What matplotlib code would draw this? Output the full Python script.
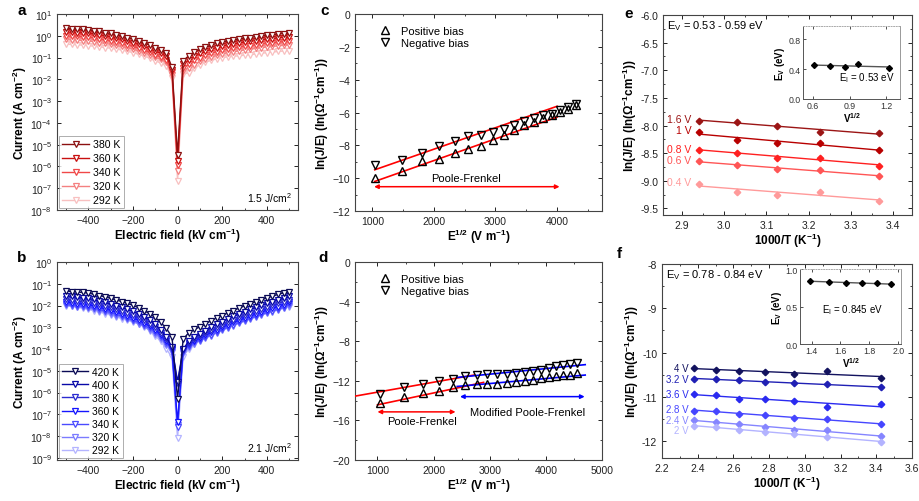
import matplotlib
matplotlib.use('Agg')
import matplotlib.pyplot as plt
import numpy as np
from matplotlib.ticker import LogLocator, NullLocator, MultipleLocator, FormatStrFormatter, LogFormatterMathtext

plt.rcParams['font.family'] = ['Liberation Sans', 'DejaVu Sans']
plt.rcParams['mathtext.fontset'] = 'custom'
plt.rcParams['mathtext.rm'] = 'Liberation Sans'
plt.rcParams['mathtext.it'] = 'Liberation Sans:italic'
plt.rcParams['mathtext.bf'] = 'Liberation Sans:bold'

# ---------------- data ----------------
field = [-500, -475, -450, -425, -400, -375, -350, -325, -300, -275, -250, -225, -200, -175, -150,
         -125, -100, -75, -50, -25, 0, 25, 50, 75, 100, 125, 150, 175, 200, 225, 250, 275, 300,
         325, 350, 375, 400, 425, 450, 475, 500]

a_labels = ['380 K', '360 K', '340 K', '320 K', '292 K']
a_colors = ['#8b1010', '#c81010', '#f04848', '#f48080', '#f8c0c0']
a_log = [
    [0.34, 0.32, 0.31, 0.29, 0.28, 0.24, 0.20, 0.15, 0.11, 0.05, -0.01, -0.08, -0.15, -0.24, -0.33,
     -0.43, -0.54, -0.64, -0.78, -1.45, -5.46, -1.15, -0.92, -0.75, -0.62, -0.52, -0.43, -0.35, -0.28,
     -0.24, -0.20, -0.15, -0.11, -0.08, -0.04, -0.01, 0.03, 0.05, 0.08, 0.10, 0.12],
    [0.18, 0.16, 0.15, 0.13, 0.12, 0.08, 0.04, -0.01, -0.05, -0.11, -0.17, -0.24, -0.31, -0.40, -0.49,
     -0.59, -0.70, -0.80, -0.94, -1.55, -5.75, -1.30, -1.10, -0.94, -0.81, -0.71, -0.62, -0.54, -0.47,
     -0.42, -0.38, -0.33, -0.29, -0.26, -0.22, -0.19, -0.15, -0.13, -0.10, -0.08, -0.06],
    [0.00, -0.02, -0.03, -0.05, -0.06, -0.10, -0.14, -0.19, -0.23, -0.29, -0.35, -0.41, -0.48, -0.57, -0.66,
     -0.76, -0.87, -0.97, -1.11, -1.68, -5.95, -1.48, -1.30, -1.13, -1.00, -0.90, -0.81, -0.73, -0.66,
     -0.61, -0.57, -0.52, -0.48, -0.45, -0.41, -0.38, -0.34, -0.32, -0.29, -0.27, -0.25],
    [-0.17, -0.19, -0.20, -0.22, -0.23, -0.27, -0.31, -0.35, -0.39, -0.44, -0.49, -0.55, -0.61, -0.69, -0.77,
     -0.87, -0.98, -1.08, -1.22, -1.80, -6.20, -1.62, -1.48, -1.32, -1.18, -1.07, -0.98, -0.90, -0.83,
     -0.78, -0.74, -0.69, -0.65, -0.62, -0.58, -0.55, -0.51, -0.49, -0.46, -0.44, -0.42],
    [-0.38, -0.40, -0.41, -0.43, -0.45, -0.48, -0.51, -0.54, -0.57, -0.61, -0.65, -0.71, -0.77, -0.85, -0.93,
     -1.03, -1.15, -1.25, -1.38, -1.92, -6.66, -1.77, -1.69, -1.50, -1.33, -1.21, -1.13, -1.06, -1.00,
     -0.97, -0.94, -0.92, -0.89, -0.87, -0.84, -0.81, -0.77, -0.75, -0.72, -0.70, -0.68],
]

b_labels = ['420 K', '400 K', '380 K', '360 K', '340 K', '320 K', '292 K']
b_colors = ['#0a0a55', '#0808a8', '#2b2bd0', '#1515ff', '#4a4aff', '#7b7bff', '#b4b4ff']
b_log = [
    [-1.33, -1.36, -1.38, -1.40, -1.43, -1.48, -1.54, -1.60, -1.67, -1.74, -1.82, -1.90, -1.99, -2.10, -2.23,
     -2.38, -2.55, -2.78, -3.05, -3.45, -6.30, -3.55, -3.25, -3.10, -2.98, -2.84, -2.70, -2.57, -2.46,
     -2.34, -2.23, -2.12, -2.02, -1.92, -1.83, -1.74, -1.65, -1.57, -1.49, -1.42, -1.36],
    [-1.55, -1.58, -1.61, -1.64, -1.67, -1.72, -1.78, -1.85, -1.92, -2.00, -2.08, -2.17, -2.27, -2.38, -2.52,
     -2.68, -2.87, -3.12, -3.45, -3.90, -5.50, -4.00, -3.65, -3.45, -3.30, -3.15, -3.00, -2.86, -2.74,
     -2.62, -2.50, -2.39, -2.28, -2.18, -2.08, -1.99, -1.90, -1.82, -1.74, -1.66, -1.58],
    [-1.72, -1.75, -1.78, -1.81, -1.84, -1.89, -1.95, -2.02, -2.09, -2.17, -2.25, -2.34, -2.44, -2.55, -2.68,
     -2.83, -3.00, -3.25, -3.55, -3.95, -5.60, -4.05, -3.72, -3.55, -3.42, -3.28, -3.14, -3.01, -2.89,
     -2.77, -2.66, -2.55, -2.45, -2.35, -2.25, -2.16, -2.07, -1.98, -1.90, -1.82, -1.75],
    [-1.85, -1.88, -1.91, -1.94, -1.97, -2.02, -2.08, -2.15, -2.22, -2.30, -2.38, -2.47, -2.57, -2.68, -2.80,
     -2.95, -3.12, -3.35, -3.65, -4.00, -7.35, -4.05, -3.78, -3.62, -3.50, -3.37, -3.24, -3.12, -3.00,
     -2.89, -2.78, -2.68, -2.58, -2.48, -2.39, -2.30, -2.21, -2.13, -2.05, -1.97, -1.86],
    [-1.95, -1.98, -2.01, -2.04, -2.07, -2.12, -2.18, -2.25, -2.32, -2.40, -2.48, -2.57, -2.67, -2.78, -2.90,
     -3.05, -3.22, -3.43, -3.72, -4.05, -7.60, -4.10, -3.85, -3.70, -3.58, -3.46, -3.34, -3.22, -3.10,
     -2.99, -2.88, -2.78, -2.68, -2.58, -2.49, -2.40, -2.32, -2.24, -2.16, -2.08, -1.93],
    [-1.99, -2.02, -2.05, -2.09, -2.13, -2.18, -2.24, -2.31, -2.38, -2.46, -2.54, -2.63, -2.72, -2.83, -2.96,
     -3.12, -3.30, -3.52, -3.80, -4.15, -7.50, -4.20, -3.92, -3.76, -3.62, -3.50, -3.38, -3.26, -3.14,
     -3.03, -2.92, -2.82, -2.72, -2.62, -2.53, -2.44, -2.36, -2.28, -2.20, -2.12, -2.00],
    [-2.00, -2.04, -2.08, -2.13, -2.18, -2.24, -2.30, -2.37, -2.44, -2.52, -2.60, -2.68, -2.77, -2.85, -2.97,
     -3.15, -3.38, -3.65, -4.00, -4.38, -8.10, -4.35, -4.00, -3.75, -3.50, -3.30, -3.13, -2.98, -2.86,
     -2.76, -2.67, -2.59, -2.52, -2.45, -2.38, -2.32, -2.26, -2.21, -2.16, -2.11, -2.07],
]

# panel c
c_x = [1045, 1478, 1810, 2090, 2337, 2560, 2765, 2956, 3135, 3305, 3466, 3620, 3768, 3910, 4047, 4180, 4309]
c_pos = [-9.97, -9.59, -8.98, -8.82, -8.47, -8.21, -8.07, -7.66, -7.36, -7.05, -6.75, -6.55, -6.34, -6.18,
         -5.98, -5.78, -5.57]
c_neg = [-9.22, -8.92, -8.47, -8.07, -7.76, -7.46, -7.40, -7.20, -7.00, -6.74, -6.49, -6.32, -6.18, -6.08,
         -5.84, -5.68, -5.51]
c_fit_x = [1040, 4000]
c_fit_neg = [-9.49, -5.62]
c_fit_pos = [-10.20, -6.28]
c_arrow_x = [1030, 4040]
c_arrow_y = -10.52

# panel d
d_x = [1045, 1478, 1810, 2090, 2337, 2560, 2765, 2956, 3135, 3305, 3466, 3620, 3768, 3910, 4047, 4180,
       4309, 4434, 4555]
d_pos = [-14.29, -13.68, -13.24, -13.00, -12.67, -12.43, -12.33, -12.33, -12.33, -12.26, -12.16, -12.00,
         -11.89, -11.76, -11.66, -11.49, -11.42, -11.39, -11.22]
d_neg = [-13.34, -12.67, -12.33, -12.06, -11.82, -11.49, -11.42, -11.35, -11.35, -11.32, -11.25, -11.15,
         -10.98, -10.88, -10.71, -10.54, -10.37, -10.30, -10.20]
d_red_x_upper = [600, 2720]
d_red_y_upper = [-13.55, -11.42]
d_red_x_lower = [1000, 2890]
d_red_y_lower = [-14.43, -12.16]
d_blue_x = [2420, 4700]
d_blue_y_upper = [-11.66, -10.37]
d_blue_y_lower = [-12.57, -11.42]

# panel e
e_x = [2.941, 3.030, 3.125, 3.226, 3.367]
e_labels = ['1.6 V', '1 V', '0.8 V', '0.6 V', '0.4 V']
e_colors = ['#9b1515', '#b80000', '#ff2020', '#ff5555', '#ff9a9a']
e_vals = [
    [-7.91, -7.94, -8.00, -8.11, -8.14],
    [-8.11, -8.26, -8.32, -8.32, -8.44],
    [-8.44, -8.50, -8.58, -8.58, -8.73],
    [-8.65, -8.71, -8.79, -8.81, -8.91],
    [-9.05, -9.20, -9.25, -9.20, -9.36],
]
e_in_x = [0.61, 0.74, 0.86, 0.97, 1.22]
e_in_y = [0.458, 0.444, 0.430, 0.467, 0.422]

# panel f
f_x = [2.381, 2.500, 2.632, 2.778, 2.941, 3.125, 3.425]
f_labels = ['4 V', '3.2 V', '3.6 V', '2.8 V', '2.4 V', '2 V']
f_colors = ['#12125e', '#2020b4', '#2a2af0', '#4646ff', '#8585ff', '#b3b3ff']
f_vals = [
    [-10.34, -10.40, -10.42, -10.44, -10.48, -10.42, -10.57],
    [-10.59, -10.60, -10.63, -10.66, -10.69, -10.72, -10.78],
    [-10.94, -10.96, -11.04, -11.04, -11.09, -11.23, -11.17],
    [-11.32, -11.32, -11.38, -11.40, -11.47, -11.51, -11.62],
    [-11.53, -11.56, -11.62, -11.69, -11.74, -11.75, -11.89],
    [-11.65, -11.69, -11.74, -11.79, -11.84, -11.90, -12.01],
]
f_in_x = [1.39, 1.52, 1.64, 1.75, 1.85, 1.95]
f_in_y = [0.840, 0.827, 0.810, 0.820, 0.810, 0.795]

# ---------------- figure ----------------
fig = plt.figure(figsize=(9.2, 5.02), dpi=100)
SP = '#444444'
TICK = 7.5
LAB = 8.5


def style(ax):
    for s in ax.spines.values():
        s.set_color(SP)
        s.set_linewidth(0.8)
    ax.tick_params(which='both', direction='in', top=True, right=True, labelsize=TICK, colors='#222222')
    ax.tick_params(which='major', length=3, width=0.7)
    ax.tick_params(which='minor', length=1.6, width=0.6)


def ylab_ln():
    return r"ln(J/E) (ln(Ω$^{\mathbf{-1}}$cm$^{\mathbf{-1}}$))"


def iv_panel(rect, labels, colors, logs, ylim, note, leg_fs, leg_sp):
    ax = fig.add_axes(rect)
    n = len(labels)
    for i, (lab, col, lg) in enumerate(zip(labels, colors, logs)):
        ax.plot(field, [10 ** v for v in lg], '-', color=col, lw=1.0, marker='v', ms=4.4,
                mfc='white', mec=col, mew=0.9, label=lab, zorder=10 + n - i)
    ax.set_yscale('log')
    ax.set_ylim(*ylim)
    ax.set_xlim(-540, 540)
    ax.yaxis.set_major_locator(LogLocator(base=10, numticks=20))
    ax.yaxis.set_major_formatter(LogFormatterMathtext())
    ax.yaxis.set_minor_locator(NullLocator())
    ax.xaxis.set_major_locator(MultipleLocator(200))
    ax.xaxis.set_minor_locator(MultipleLocator(100))
    style(ax)
    ax.set_xlabel(r"Electric field (kV cm$^{\mathbf{-1}}$)", fontsize=LAB, fontweight='bold', labelpad=1)
    ax.set_ylabel(r"Current (A cm$^{\mathbf{-2}}$)", fontsize=LAB, fontweight='bold', labelpad=1)
    leg = ax.legend(loc='lower left', fontsize=leg_fs, frameon=True, fancybox=False, edgecolor='#999999',
                    handlelength=2.6, borderaxespad=0.15, labelspacing=leg_sp, borderpad=0.3,
                    handletextpad=0.4)
    leg.get_frame().set_linewidth(0.7)
    leg.set_zorder(30)
    ax.text(0.975, 0.03, note, transform=ax.transAxes, ha='right', va='bottom', fontsize=7.5)
    return ax


# panel a
iv_panel([0.062, 0.5797, 0.262, 0.3904], a_labels, a_colors, a_log, (1e-8, 10), r"1.5 J/cm$^2$", 7.6, 0.38)
# panel b
iv_panel([0.062, 0.0817, 0.262, 0.3944], b_labels, b_colors, b_log, (10 ** -9.1, 1), r"2.1 J/cm$^2$", 7.4, 0.3)


def pf_panel(rect, x, pos, neg, xlim, ylim, ymaj, ymin, xticks):
    ax = fig.add_axes(rect)
    ax.plot(x, pos, linestyle='none', marker='^', ms=5.5, mfc='none', mec='black', mew=1.0,
            label='Positive bias', zorder=5)
    ax.plot(x, neg, linestyle='none', marker='v', ms=5.5, mfc='none', mec='black', mew=1.0,
            label='Negative bias', zorder=5)
    ax.set_xlim(*xlim)
    ax.set_ylim(*ylim)
    ax.yaxis.set_major_locator(MultipleLocator(ymaj))
    ax.yaxis.set_minor_locator(MultipleLocator(ymin))
    ax.set_xticks(xticks)
    ax.xaxis.set_minor_locator(MultipleLocator(500))
    style(ax)
    ax.set_xlabel(r"E$^{\mathbf{1/2}}$ (V m$^{\mathbf{-1}}$)", fontsize=LAB, fontweight='bold', labelpad=1)
    ax.set_ylabel(ylab_ln(), fontsize=LAB, fontweight='bold', labelpad=1)
    ax.legend(loc='upper left', fontsize=8, frameon=False, handlelength=1.0, handletextpad=0.9,
              borderaxespad=0.5, labelspacing=0.15, bbox_to_anchor=(0.06, 0.99))
    return ax


# panel c
axc = pf_panel([0.3859, 0.5777, 0.2685, 0.3924], c_x, c_pos, c_neg, (720, 4730), (-12, 0), 2, 1,
               [1000, 2000, 3000, 4000])
axc.plot(c_fit_x, c_fit_neg, color='#ff0000', lw=1.2, zorder=4)
axc.plot(c_fit_x, c_fit_pos, color='#ff0000', lw=1.2, zorder=4)
axc.annotate('', xy=(c_arrow_x[0], c_arrow_y), xytext=(c_arrow_x[1], c_arrow_y),
             arrowprops=dict(arrowstyle='<|-|>', color='#ff0000', lw=1.1, mutation_scale=6,
                             shrinkA=0, shrinkB=0))
axc.text(2520, -10.0, 'Poole-Frenkel', ha='center', va='center', fontsize=8)

# panel d
axd = pf_panel([0.3859, 0.0817, 0.2685, 0.3944], d_x, d_pos, d_neg, (600, 5000), (-20, 0), 4, 2,
               [1000, 2000, 3000, 4000, 5000])
axd.plot(d_red_x_upper, d_red_y_upper, color='#ff0000', lw=1.2, zorder=4)
axd.plot(d_red_x_lower, d_red_y_lower, color='#ff0000', lw=1.2, zorder=4)
axd.plot(d_blue_x, d_blue_y_upper, color='#0000ff', lw=1.2, zorder=4)
axd.plot(d_blue_x, d_blue_y_lower, color='#0000ff', lw=1.2, zorder=4)
axd.annotate('', xy=(1000, -15.14), xytext=(2390, -15.14),
             arrowprops=dict(arrowstyle='<|-|>', color='#ff0000', lw=1.1, mutation_scale=6,
                             shrinkA=0, shrinkB=0))
axd.annotate('', xy=(2470, -13.6), xytext=(4690, -13.6),
             arrowprops=dict(arrowstyle='<|-|>', color='#0000ff', lw=1.1, mutation_scale=6,
                             shrinkA=0, shrinkB=0))
axd.text(1790, -16.05, 'Poole-Frenkel', ha='center', va='center', fontsize=8)
axd.text(3680, -15.2, 'Modified Poole-Frenkel', ha='center', va='center', fontsize=8)


def arr_panel(rect, x, vals, labels, colors, xlim, ylim, ymaj, xmaj, lab_x, lab_dy, lab_fs, note, fmt_y):
    ax = fig.add_axes(rect)
    for v, lab, col, dy in zip(vals, labels, colors, lab_dy):
        ax.plot(x, v, linestyle='none', marker='D', ms=3.3, color=col, zorder=5)
        k, b0 = np.polyfit(x, v, 1)
        xx = np.array([x[0], x[-1]])
        ax.plot(xx, k * xx + b0, color=col, lw=1.0, zorder=4)
        ax.text(lab_x, v[0] + dy, lab, color=col, ha='right', va='center', fontsize=lab_fs)
    ax.set_xlim(*xlim)
    ax.set_ylim(*ylim)
    ax.yaxis.set_major_locator(MultipleLocator(ymaj))
    ax.yaxis.set_major_formatter(FormatStrFormatter(fmt_y))
    ax.yaxis.set_minor_locator(MultipleLocator(ymaj / 2))
    ax.xaxis.set_major_locator(MultipleLocator(xmaj))
    ax.xaxis.set_major_formatter(FormatStrFormatter('%.1f'))
    ax.xaxis.set_minor_locator(MultipleLocator(xmaj / 2))
    style(ax)
    ax.set_xlabel(r"1000/T (K$^{\mathbf{-1}}$)", fontsize=LAB, fontweight='bold', labelpad=1)
    ax.set_ylabel(ylab_ln(), fontsize=LAB, fontweight='bold', labelpad=1)
    ax.text(0.015, 0.948, note, transform=ax.transAxes, ha='left', va='center', fontsize=8)
    return ax


axe = arr_panel([0.7207, 0.5697, 0.2707, 0.3984], e_x, e_vals, e_labels, e_colors,
                (2.855, 3.445), (-9.62, -6.0), 0.5, 0.1, 2.922, [0.03, 0.02, 0.02, 0.02, 0.02], 7.5,
                r"E$_\mathrm{V}$ = 0.53 - 0.59 eV", '%.1f')
axf = arr_panel([0.7196, 0.0857, 0.2717, 0.3865], f_x, f_vals, f_labels, f_colors,
                (2.2, 3.6), (-12.38, -8.0), 1, 0.2, 2.35, [0.0, 0.0, 0.0, 0.04, 0.01, -0.09], 7.0,
                r"E$_\mathrm{V}$ = 0.78 - 0.84 eV", '%d')


def inset(rect, x, y, xlim, ylim, xticks, yticks, note, note_xy):
    ax = fig.add_axes(rect)
    ax.plot(x, y, linestyle='none', marker='D', ms=3.0, color='black', zorder=5)
    k, b0 = np.polyfit(x, y, 1)
    xx = np.array([x[0], x[-1]])
    ax.plot(xx, k * xx + b0, color='#555555', lw=1.0, zorder=4)
    ax.set_xlim(*xlim)
    ax.set_ylim(*ylim)
    ax.set_xticks(xticks)
    ax.set_yticks(yticks)
    ax.xaxis.set_major_formatter(FormatStrFormatter('%.1f'))
    ax.yaxis.set_major_formatter(FormatStrFormatter('%.1f'))
    for s in ax.spines.values():
        s.set_linewidth(0.7)
    ax.spines['left'].set_color('#555555')
    ax.spines['bottom'].set_color('#555555')
    ax.spines['right'].set_color('#999999')
    ax.spines['top'].set_color('#aaaaaa')
    ax.spines['top'].set_linestyle(':')
    ax.tick_params(which='both', direction='in', top=True, right=False, labelsize=6.3, length=2,
                   width=0.6, pad=1.5, colors='#333333')
    ax.set_xlabel(r"V$^{\mathbf{1/2}}$", fontsize=7, fontweight='bold', labelpad=0)
    ax.set_ylabel(r"E$_{\mathbf{V}}$ (eV)", fontsize=7, fontweight='bold', labelpad=1)
    ax.text(note_xy[0], note_xy[1], note, transform=ax.transAxes, ha='center', va='center', fontsize=7)
    return ax


inset([0.8728, 0.8008, 0.1054, 0.1454], e_in_x, e_in_y, (0.52, 1.31), (0.0, 0.98),
      [0.6, 0.9, 1.2], [0.0, 0.4, 0.8], r"E$_\mathrm{I}$ = 0.53 eV", (0.66, 0.30))
inset([0.8696, 0.3127, 0.1098, 0.1494], f_in_x, f_in_y, (1.32, 2.02), (0.0, 1.0),
      [1.4, 1.6, 1.8, 2.0], [0.0, 0.5, 1.0], r"E$_\mathrm{I}$ = 0.845 eV", (0.52, 0.47))

# panel letters
for t, x, y in [('a', 0.0185, 0.970), ('b', 0.0185, 0.478), ('c', 0.348, 0.970),
                ('d', 0.3457, 0.478), ('e', 0.679, 0.964), ('f', 0.6707, 0.486)]:
    fig.text(x, y, t, fontsize=11, fontweight='bold', ha='left', va='baseline')

fig.savefig('out.png', dpi=100)
